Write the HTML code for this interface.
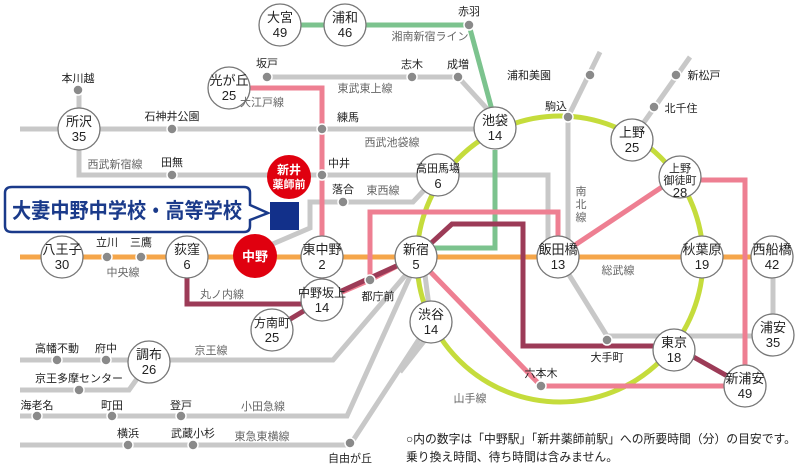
<!DOCTYPE html>
<html><head><meta charset="utf-8"><style>
html,body{margin:0;padding:0;background:#fff}
svg{display:block}
text{font-family:"Liberation Sans","Noto Sans CJK JP",sans-serif}
</style></head><body>
<svg width="800" height="466" viewBox="0 0 800 466" xmlns="http://www.w3.org/2000/svg">
<g fill="none" stroke-linejoin="miter">
<g stroke="#c8c8c8" stroke-width="5">
<path d="M20 129 H495"/>
<path d="M79 90 V175 H548 V240"/>
<path d="M267 77 H458 L490 112"/>
<path d="M268 246 L310 228 V202 H413 L428 186"/>
<path d="M568 117 V240"/>
<path d="M568 117 L600 52"/>
<path d="M642 125 L690 57"/>
<path d="M558 257 L607 336 H773 V257"/>
<path d="M20 360 H333 L410 270"/>
<path d="M20 390 H129 L149 362"/>
<path d="M20 416 H347 L412 272"/>
<path d="M20 445 H350 L425 330"/>
<path d="M425 275 L431 322"/>
<path d="M425 340 L400 372"/>
</g>
<path d="M280 25 H469 L492 110 M495 150 V248 H430" stroke="#7cc38e" stroke-width="5"/>
<path d="M20 257 H790" stroke="#f5a64a" stroke-width="5"/>
<circle cx="560" cy="259" r="143" stroke="#c5dc3c" stroke-width="5"/>
<g stroke="#ee7f92" stroke-width="5">
<path d="M229 88 H322 V300"/>
<path d="M340 293 L370 280 L405 262"/>
<path d="M370 280 V212 H558 V240"/>
<path d="M575 245 L665 185"/>
<path d="M695 180 H745 V386"/>
<path d="M416 257 L541 386 H745"/>
</g>
<g stroke="#9c3b57" stroke-width="5">
<path d="M187 257 V304 H322"/>
<path d="M272 330 L322 300 L416 257 L452 224 H523 V346 H674 L745 386"/>
</g>
</g>

<g fill="#8a8a8a" stroke="#fff" stroke-width="1.5">
<circle cx="469" cy="25" r="5"/><circle cx="267" cy="77" r="5"/><circle cx="412" cy="77" r="5"/><circle cx="458" cy="77" r="5"/>
<circle cx="78" cy="90" r="5"/><circle cx="172" cy="129" r="5"/><circle cx="322" cy="129" r="5"/>
<circle cx="172" cy="175" r="5"/><circle cx="322" cy="175" r="5"/><circle cx="343" cy="202" r="5"/>
<circle cx="568" cy="117" r="5"/><circle cx="590" cy="75" r="5"/><circle cx="676" cy="75" r="5"/><circle cx="654" cy="107" r="5"/>
<circle cx="107" cy="257" r="5"/><circle cx="141" cy="257" r="5"/><circle cx="370" cy="280" r="5"/>
<circle cx="57" cy="360" r="5"/><circle cx="106" cy="360" r="5"/><circle cx="79" cy="390" r="5"/>
<circle cx="37" cy="416" r="5"/><circle cx="112" cy="416" r="5"/><circle cx="181" cy="416" r="5"/>
<circle cx="128" cy="445" r="5"/><circle cx="193" cy="445" r="5"/><circle cx="350" cy="443" r="5"/>
<circle cx="607" cy="340" r="5"/><circle cx="541" cy="386" r="5"/>
</g>

<g fill="#fff" stroke="#777" stroke-width="1.3">
<circle cx="280" cy="25" r="21"/><circle cx="345" cy="25" r="21"/><circle cx="229" cy="88" r="21"/>
<circle cx="79" cy="129" r="21"/><circle cx="495" cy="128" r="21"/><circle cx="632" cy="140" r="21"/>
<circle cx="680" cy="177" r="21"/><circle cx="438" cy="175" r="21"/>
<circle cx="62" cy="257" r="21"/><circle cx="187" cy="257" r="21"/><circle cx="322" cy="257" r="21"/>
<circle cx="416" cy="257" r="21"/><circle cx="558" cy="257" r="21"/><circle cx="702" cy="257" r="21"/>
<circle cx="772" cy="257" r="21"/><circle cx="322" cy="300" r="21"/><circle cx="272" cy="330" r="21"/>
<circle cx="431" cy="322" r="21"/><circle cx="149" cy="362" r="21"/><circle cx="674" cy="350" r="21"/>
<circle cx="773" cy="335" r="21"/><circle cx="745" cy="386" r="21"/>
</g>
<circle cx="289" cy="177" r="22" fill="#e0000f"/>
<circle cx="255" cy="256" r="22" fill="#e0000f"/>
<rect x="270" y="202" width="29" height="28" fill="#12308a"/>

<path d="M12 187 H244 Q250 187 250 193 V205 L268 213 L250 220 V226 Q250 232 244 232 H12 Q5 232 5 226 V193 Q5 187 12 187 Z" fill="#fff" stroke="#1a3a8a" stroke-width="2.5"/>
<text x="12" y="218" font-size="21" font-weight="bold" fill="#1a3a8a" textLength="230" lengthAdjust="spacingAndGlyphs">大妻中野中学校・高等学校</text>

<g font-size="13" fill="#222" text-anchor="middle">
<text x="280" y="22">大宮</text><text x="280" y="37">49</text>
<text x="345" y="22">浦和</text><text x="345" y="37">46</text>
<text x="229" y="85">光が丘</text><text x="229" y="100">25</text>
<text x="79" y="126">所沢</text><text x="79" y="141">35</text>
<text x="495" y="125">池袋</text><text x="495" y="140">14</text>
<text x="632" y="137">上野</text><text x="632" y="152">25</text>
<text x="680" y="172" font-size="11">上野</text><text x="680" y="184" font-size="11">御徒町</text><text x="680" y="197">28</text>
<text x="438" y="172" font-size="11">高田馬場</text><text x="438" y="188">6</text>
<text x="62" y="254">八王子</text><text x="62" y="269">30</text>
<text x="187" y="254">荻窪</text><text x="187" y="269">6</text>
<text x="322" y="254">東中野</text><text x="322" y="269">2</text>
<text x="416" y="254">新宿</text><text x="416" y="269">5</text>
<text x="558" y="254">飯田橋</text><text x="558" y="269">13</text>
<text x="702" y="254">秋葉原</text><text x="702" y="269">19</text>
<text x="772" y="254">西船橋</text><text x="772" y="269">42</text>
<text x="322" y="297" font-size="12">中野坂上</text><text x="322" y="312">14</text>
<text x="272" y="327" font-size="12">方南町</text><text x="272" y="342">25</text>
<text x="431" y="319">渋谷</text><text x="431" y="334">14</text>
<text x="149" y="359">調布</text><text x="149" y="374">26</text>
<text x="674" y="347">東京</text><text x="674" y="362">18</text>
<text x="773" y="332">浦安</text><text x="773" y="347">35</text>
<text x="745" y="383">新浦安</text><text x="745" y="398">49</text>
</g>
<g font-size="12" font-weight="bold" fill="#fff" text-anchor="middle">
<text x="289" y="174">新井</text><text x="289" y="188" font-size="11">薬師前</text>
<text x="255" y="261" font-size="13">中野</text>
</g>

<g font-size="11" fill="#222" text-anchor="middle">
<text x="469" y="15">赤羽</text><text x="267" y="67">坂戸</text><text x="412" y="68">志木</text><text x="458" y="68">成増</text>
<text x="78" y="82">本川越</text><text x="172" y="120">石神井公園</text>
<text x="172" y="166">田無</text><text x="343" y="193">落合</text>
<text x="556" y="110">駒込</text><text x="529" y="79">浦和美園</text><text x="704" y="79">新松戸</text><text x="681" y="112">北千住</text>
<text x="107" y="246">立川</text><text x="141" y="246">三鷹</text><text x="378" y="300">都庁前</text>
<text x="57" y="352">高幡不動</text><text x="106" y="352">府中</text><text x="79" y="382">京王多摩センター</text>
<text x="37" y="409">海老名</text><text x="112" y="409">町田</text><text x="181" y="409">登戸</text>
<text x="128" y="437">横浜</text><text x="193" y="437">武蔵小杉</text><text x="350" y="462">自由が丘</text>
<text x="607" y="361">大手町</text><text x="541" y="377">六本木</text>
</g>
<text x="337" y="121" font-size="11" fill="#222">練馬</text>
<text x="328" y="167" font-size="11" fill="#222">中井</text>
<g font-size="11" fill="#666" text-anchor="middle">
<text x="430" y="40">湘南新宿ライン</text><text x="365" y="92">東武東上線</text><text x="262" y="106">大江戸線</text>
<text x="392" y="146">西武池袋線</text><text x="115" y="168">西武新宿線</text><text x="383" y="194">東西線</text>
<text x="123" y="276">中央線</text><text x="618" y="274">総武線</text><text x="222" y="298">丸ノ内線</text>
<text x="211" y="354">京王線</text><text x="263" y="410">小田急線</text><text x="262" y="440">東急東横線</text>
<text x="470" y="402">山手線</text>
<text x="581" y="195">南</text><text x="581" y="208">北</text><text x="581" y="221">線</text>
</g>
<g font-size="12" fill="#222">
<text x="406" y="443" textLength="390" lengthAdjust="spacingAndGlyphs">○内の数字は「中野駅」「新井薬師前駅」への所要時間（分）の目安です。</text>
<text x="406" y="461" textLength="212" lengthAdjust="spacingAndGlyphs">乗り換え時間、待ち時間は含みません。</text>
</g>
</svg>
</body></html>
